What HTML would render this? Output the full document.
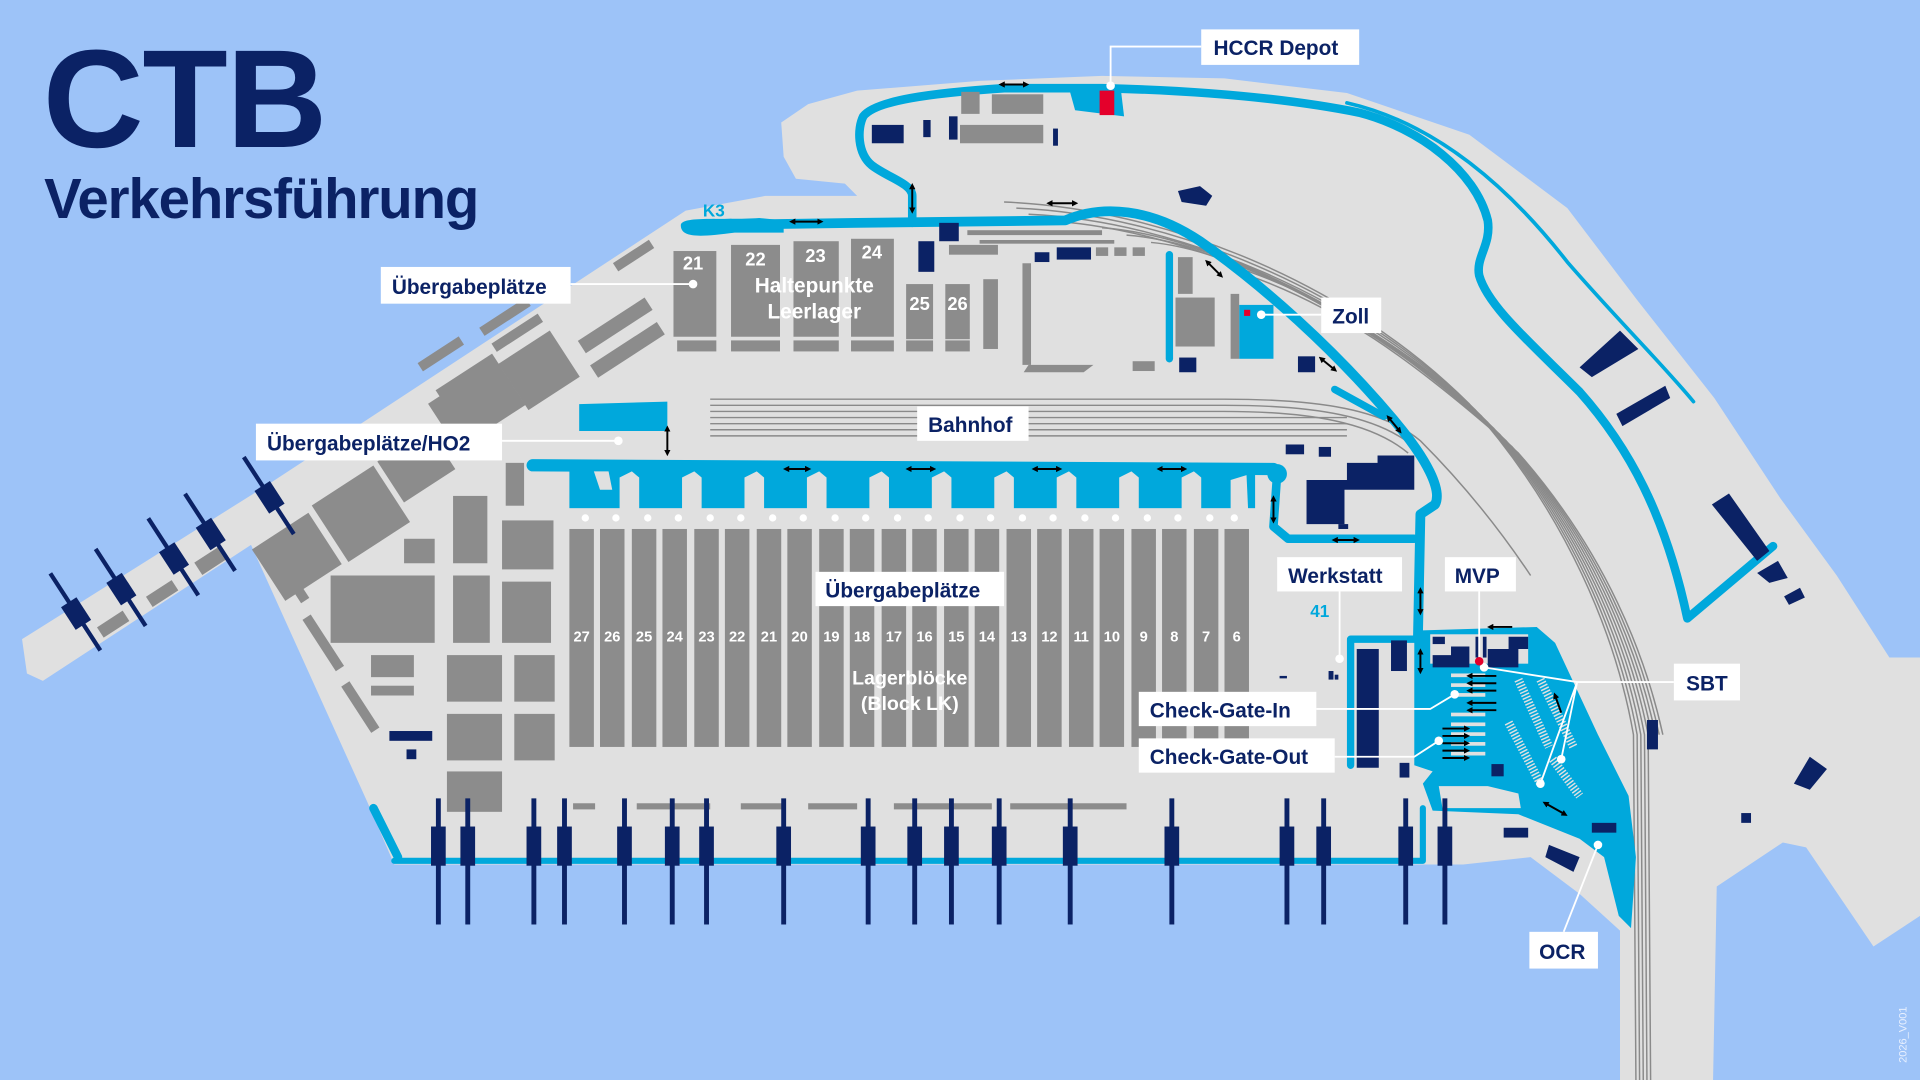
<!DOCTYPE html>
<html><head><meta charset="utf-8">
<style>
html,body{margin:0;padding:0;background:#9dc3f8;}
svg{display:block}
.lb{font-family:"Liberation Sans",sans-serif;font-weight:bold;fill:#0b2265;font-size:17px}
.wt{font-family:"Liberation Sans",sans-serif;font-weight:bold;fill:#fff}
</style></head>
<body>
<svg width="1920" height="1080" viewBox="0 0 1568 882" xmlns="http://www.w3.org/2000/svg">
<defs>
<marker id="ae" viewBox="0 0 10 10" refX="5" refY="5" markerWidth="3.2" markerHeight="3.2" orient="auto"><path d="M0,0 L10,5 L0,10 Z" fill="#000"/></marker>
<marker id="as" viewBox="0 0 10 10" refX="5" refY="5" markerWidth="3.2" markerHeight="3.2" orient="auto"><path d="M10,0 L0,5 L10,10 Z" fill="#000"/></marker>
</defs>
<rect width="1568" height="882" fill="#9dc3f8"/>
<path fill="#e0e0e0" d="M18,522 L220,395 L560,172 L625,160 L700,160 L690,150 L650,146 L640,128 L638,100 L660,85 L700,74 L800,66 L900,62 L1000,64 L1100,76 L1200,110 L1280,170 L1337,245 L1400,325 L1454,407 L1500,470 L1543,537 L1568,537 L1568,748 L1530,773 L1475,692 L1456,688 L1402,724 L1399,882 L1323,882 L1323,760 L1290,730 L1250,700 L1195,706 L322,706 L300,655 L205,445 L35,556 L22,550 Z"/>
<text x="35" y="120" font-family="Liberation Sans,sans-serif" font-weight="bold" font-size="114" fill="#0b2265" letter-spacing="-1">CTB</text>
<text x="36" y="178" font-family="Liberation Sans,sans-serif" font-weight="bold" font-size="46" fill="#0b2265" letter-spacing="-0.9">Verkehrsführung</text>

<g fill="none" stroke="#8a8a8a" stroke-width="1.2">
<path d="M820,165 C950,170 1100,230 1200,330 C1280,420 1320,520 1334,600 L1336,882"/>
<path d="M830,170 C955,175 1105,236 1205,335 C1284,424 1323,522 1337,600 L1339,882"/>
<path d="M840,175 C960,180 1110,242 1210,340 C1288,428 1326,524 1340,600 L1342,882"/>
<path d="M850,180 C965,185 1115,248 1215,345 C1292,432 1329,526 1343,600 L1345,882"/>
<path d="M900,186 C985,192 1120,254 1220,350 C1296,436 1332,528 1346,600 L1348,882"/>
<path d="M920,192 C1000,198 1125,260 1225,355 C1300,440 1335,530 1349,600"/>
<path d="M940,198 C1010,204 1130,266 1230,360 C1304,444 1338,532 1352,600"/>
<path d="M1000,215 C1080,240 1140,280 1235,365 C1308,448 1341,534 1355,600"/>
<path d="M1020,225 C1090,250 1150,290 1240,370 C1312,452 1344,536 1358,600"/>
<path d="M580,326 L1000,326 C1080,326 1130,335 1160,360 C1200,400 1230,440 1250,470"/>
<path d="M580,331 L1000,331 C1075,331 1125,340 1155,365"/>
<path d="M580,336 L1000,336 C1070,336 1120,345 1150,370"/>
<path d="M580,341 L1100,341"/>
<path d="M580,346 L1100,346"/>
<path d="M580,351 L1100,351"/>
<path d="M580,356 L1100,356"/>
</g>
<rect x="790" y="188" width="110" height="4" fill="#8a8a8a"/>
<rect x="800" y="196" width="110" height="3" fill="#8a8a8a"/>

<g fill="none" stroke="#00a8dc" stroke-linecap="round" stroke-linejoin="round">
<path stroke-width="7" d="M745,182 L745,160 C745,150 725,145 712,135 C700,125 700,105 705,95 C715,82 760,76 820,72 L900,72 C980,74 1050,80 1110,92 C1160,105 1205,140 1215,180 C1218,200 1205,210 1208,225 C1215,250 1250,280 1290,320 C1330,365 1360,420 1378,505 L1448,446"/>
<path stroke-width="3" d="M1100,84 C1170,100 1230,150 1280,214 C1320,260 1360,300 1383,328"/>
<path stroke-width="8" d="M565,184 L700,182 L870,180 C900,167 940,170 980,197 C1030,232 1090,285 1140,345 C1165,375 1178,400 1172,412 L1160,420 L1158,520"/>
<path stroke-width="6" d="M955,208 L955,293"/>
<path stroke-width="6" d="M1090,318 L1130,340"/>
<path stroke-width="10" d="M435,380 L1040,383"/>
<path stroke-width="7" d="M1043,387 L1040,430 L1052,440 L1155,440"/>
<path stroke-width="6" d="M1103,625 L1103,522 L1158,522"/>
<path stroke-width="5" d="M322,703 L1162,703 L1162,660"/>
<path stroke-width="7" d="M305,660 L325,700"/>
</g>
<path fill="#00a8dc" d="M556,184 C556,176 590,180 620,178 L640,180 L640,190 L600,190 C570,194 556,194 556,184Z"/>
<path fill="#00a8dc" d="M473,330 L545,328 L545,352 L473,352 Z"/>
<circle cx="1043" cy="387" r="8" fill="#00a8dc"/>
<rect x="1012" y="249" width="28" height="44" fill="#00a8dc"/>
<rect x="1016" y="253" width="5" height="5" fill="#e4002b"/>
<path fill="#00a8dc" d="M873,72 L915,70 L918,95 L878,90 Z"/>
<rect x="898" y="74" width="12" height="20" fill="#e4002b"/>
<rect x="465" y="383" width="560" height="32" fill="#00a8dc"/>
<g fill="#e0e0e0">
<path d="M485,385 L497,385 L500,400 L490,400Z"/>
<path d="M506,390 L516,385 L522,390 L522,432 L506,432Z"/>
<path d="M557,390 L567,385 L573,390 L573,432 L557,432Z"/>
<path d="M608,390 L618,385 L624,390 L624,432 L608,432Z"/>
<path d="M659,390 L669,385 L675,390 L675,432 L659,432Z"/>
<path d="M710,390 L720,385 L726,390 L726,432 L710,432Z"/>
<path d="M761,390 L771,385 L777,390 L777,432 L761,432Z"/>
<path d="M812,390 L822,385 L828,390 L828,432 L812,432Z"/>
<path d="M863,390 L873,385 L879,390 L879,432 L863,432Z"/>
<path d="M914,390 L924,385 L930,390 L930,432 L914,432Z"/>
<path d="M965,390 L975,385 L981,390 L981,432 L965,432Z"/>
<path d="M1005,392 L1018,388 L1020,432 L1005,432Z"/>
</g>
<g fill="#8c8c8c">
<rect x="465" y="432" width="20" height="178"/><rect x="490" y="432" width="20" height="178"/><rect x="516" y="432" width="20" height="178"/><rect x="541" y="432" width="20" height="178"/><rect x="567" y="432" width="20" height="178"/><rect x="592" y="432" width="20" height="178"/><rect x="618" y="432" width="20" height="178"/><rect x="643" y="432" width="20" height="178"/><rect x="669" y="432" width="20" height="178"/><rect x="694" y="432" width="20" height="178"/><rect x="720" y="432" width="20" height="178"/><rect x="745" y="432" width="20" height="178"/><rect x="771" y="432" width="20" height="178"/><rect x="796" y="432" width="20" height="178"/><rect x="822" y="432" width="20" height="178"/><rect x="847" y="432" width="20" height="178"/><rect x="873" y="432" width="20" height="178"/><rect x="898" y="432" width="20" height="178"/><rect x="924" y="432" width="20" height="178"/><rect x="949" y="432" width="20" height="178"/><rect x="975" y="432" width="20" height="178"/><rect x="1000" y="432" width="20" height="178"/>
</g>
<g fill="#fff"><circle cx="478" cy="423" r="3"/><circle cx="503" cy="423" r="3"/><circle cx="529" cy="423" r="3"/><circle cx="554" cy="423" r="3"/><circle cx="580" cy="423" r="3"/><circle cx="605" cy="423" r="3"/><circle cx="631" cy="423" r="3"/><circle cx="656" cy="423" r="3"/><circle cx="682" cy="423" r="3"/><circle cx="707" cy="423" r="3"/><circle cx="733" cy="423" r="3"/><circle cx="758" cy="423" r="3"/><circle cx="784" cy="423" r="3"/><circle cx="809" cy="423" r="3"/><circle cx="835" cy="423" r="3"/><circle cx="860" cy="423" r="3"/><circle cx="886" cy="423" r="3"/><circle cx="911" cy="423" r="3"/><circle cx="937" cy="423" r="3"/><circle cx="962" cy="423" r="3"/><circle cx="988" cy="423" r="3"/><circle cx="1008" cy="423" r="3"/></g>
<g class="wt" font-size="12" text-anchor="middle">
<text x="475" y="524">27</text><text x="500" y="524">26</text><text x="526" y="524">25</text><text x="551" y="524">24</text><text x="577" y="524">23</text><text x="602" y="524">22</text><text x="628" y="524">21</text><text x="653" y="524">20</text><text x="679" y="524">19</text><text x="704" y="524">18</text><text x="730" y="524">17</text><text x="755" y="524">16</text><text x="781" y="524">15</text><text x="806" y="524">14</text><text x="832" y="524">13</text><text x="857" y="524">12</text><text x="883" y="524">11</text><text x="908" y="524">10</text><text x="934" y="524">9</text><text x="959" y="524">8</text><text x="985" y="524">7</text><text x="1010" y="524">6</text>
</g>
<g fill="#8c8c8c">
<rect x="468" y="656" width="18" height="5"/><rect x="520" y="656" width="60" height="5"/><rect x="605" y="656" width="35" height="5"/><rect x="660" y="656" width="40" height="5"/><rect x="730" y="656" width="80" height="5"/><rect x="825" y="656" width="95" height="5"/>
<rect x="550" y="205" width="35" height="70"/><rect x="553" y="278" width="32" height="9"/>
<rect x="597" y="200" width="40" height="75"/><rect x="597" y="278" width="40" height="9"/>
<rect x="648" y="197" width="37" height="78"/><rect x="648" y="278" width="37" height="9"/>
<rect x="695" y="195" width="35" height="80"/><rect x="695" y="278" width="35" height="9"/>
<rect x="740" y="232" width="22" height="45"/><rect x="740" y="278" width="22" height="9"/>
<rect x="772" y="232" width="20" height="45"/><rect x="772" y="278" width="20" height="9"/>
<rect x="803" y="228" width="12" height="57"/><rect x="835" y="215" width="7" height="83"/>
<path d="M840,298 L893,298 L885,304 L836,304Z"/>
<rect x="775" y="200" width="40" height="8"/><rect x="895" y="202" width="10" height="7"/><rect x="910" y="202" width="10" height="7"/><rect x="925" y="202" width="10" height="7"/>
<rect x="925" y="295" width="18" height="8"/><rect x="962" y="210" width="12" height="30"/><rect x="960" y="243" width="32" height="40"/><rect x="1005" y="240" width="7" height="53"/>
<rect x="785" y="75" width="15" height="18"/><rect x="810" y="77" width="42" height="16"/><rect x="784" y="102" width="68" height="15"/>
<rect x="215" y="430" width="55" height="50" transform="rotate(-33 242 455)"/>
<rect x="265" y="392" width="60" height="55" transform="rotate(-33 295 420)"/>
<rect x="315" y="360" width="50" height="40" transform="rotate(-33 340 380)"/>
<rect x="365" y="300" width="55" height="50" transform="rotate(-33 392 325)"/>
<rect x="415" y="280" width="50" height="45" transform="rotate(-33 440 302)"/>
<rect x="355" y="318" width="35" height="30" transform="rotate(-33 372 333)"/>
<rect x="470" y="260" width="65" height="12" transform="rotate(-33 502 266)"/>
<rect x="480" y="280" width="65" height="12" transform="rotate(-33 512 286)"/>
<rect x="390" y="255" width="45" height="8" transform="rotate(-33 412 259)"/>
<rect x="400" y="268" width="45" height="8" transform="rotate(-33 422 272)"/>
<rect x="340" y="285" width="40" height="8" transform="rotate(-33 360 289)"/>
<rect x="500" y="205" width="35" height="8" transform="rotate(-33 517 209)"/>
<rect x="80" y="505" width="25" height="10" transform="rotate(-33 92 510)"/>
<rect x="120" y="480" width="25" height="10" transform="rotate(-33 132 485)"/>
<rect x="160" y="452" width="25" height="12" transform="rotate(-33 172 458)"/>
<rect x="230" y="440" width="8" height="55" transform="rotate(-33 234 467)"/>
<rect x="260" y="500" width="8" height="50" transform="rotate(-33 264 525)"/>
<rect x="290" y="555" width="8" height="45" transform="rotate(-33 294 577)"/>
<rect x="370" y="405" width="28" height="55"/><rect x="413" y="378" width="15" height="35"/>
<rect x="410" y="425" width="42" height="40"/><rect x="370" y="470" width="30" height="55"/>
<rect x="410" y="475" width="40" height="50"/><rect x="270" y="470" width="85" height="55"/>
<rect x="330" y="440" width="25" height="20"/><rect x="303" y="535" width="35" height="18"/>
<rect x="303" y="560" width="35" height="8"/><rect x="365" y="535" width="45" height="38"/>
<rect x="420" y="535" width="33" height="38"/><rect x="365" y="583" width="45" height="38"/>
<rect x="420" y="583" width="33" height="38"/><rect x="365" y="630" width="45" height="33"/>
</g>
<path fill="#00a8dc" d="M1155,515 L1255,512 L1270,525 L1305,600 L1330,650 L1336,700 L1332,758 L1322,748 L1310,700 L1290,685 L1240,665 L1170,662 L1162,640 L1170,630 L1155,625 Z"/>
<rect x="1168" y="518" width="80" height="24" fill="#e0e0e0"/>
<path fill="#e0e0e0" d="M1175,642 L1215,642 L1240,648 L1242,660 L1178,660 Z"/>
<g fill="#e0e0e0">
<rect x="1185" y="550" width="28" height="3"/><rect x="1185" y="558" width="28" height="3"/><rect x="1185" y="566" width="28" height="3"/><rect x="1185" y="582" width="28" height="3"/><rect x="1185" y="590" width="28" height="3"/><rect x="1185" y="598" width="28" height="3"/><rect x="1185" y="606" width="28" height="3"/><rect x="1185" y="614" width="28" height="3"/>
</g>
<g fill="none" stroke="#e0e0e0" stroke-width="7" stroke-dasharray="1.2 1.4">
<path d="M1240,555 L1265,610"/><path d="M1258,555 L1285,610"/><path d="M1232,590 L1258,640"/><path d="M1268,620 L1290,650"/>
</g>
<!-- arrows -->
<g stroke="#000" stroke-width="1.6">
<g marker-start="url(#as)">
<line x1="1200" y1="552" x2="1222" y2="552"/><line x1="1200" y1="558" x2="1222" y2="558"/><line x1="1200" y1="564" x2="1222" y2="564"/><line x1="1200" y1="574" x2="1222" y2="574"/><line x1="1200" y1="580" x2="1222" y2="580"/><line x1="1217" y1="512" x2="1235" y2="512"/>
</g>
<g marker-end="url(#ae)">
<line x1="1178" y1="595" x2="1198" y2="595"/><line x1="1178" y1="601" x2="1198" y2="601"/><line x1="1178" y1="607" x2="1198" y2="607"/><line x1="1178" y1="613" x2="1198" y2="613"/><line x1="1178" y1="619" x2="1198" y2="619"/><line x1="1275" y1="582" x2="1270" y2="568"/>
</g>
<g marker-start="url(#as)" marker-end="url(#ae)">
<line x1="818" y1="69" x2="838" y2="69"/><line x1="647" y1="181" x2="670" y2="181"/><line x1="857" y1="166" x2="878" y2="166"/><line x1="642" y1="383" x2="660" y2="383"/><line x1="742" y1="383" x2="762" y2="383"/><line x1="845" y1="383" x2="865" y2="383"/><line x1="947" y1="383" x2="967" y2="383"/><line x1="1090" y1="441" x2="1108" y2="441"/><line x1="1160" y1="482" x2="1160" y2="500"/><line x1="1160" y1="532" x2="1160" y2="548"/><line x1="1040" y1="407" x2="1040" y2="425"/><line x1="745" y1="152" x2="745" y2="172"/><line x1="545" y1="350" x2="545" y2="370"/><line x1="986" y1="214" x2="997" y2="225"/><line x1="1079" y1="293" x2="1090" y2="302"/><line x1="1134" y1="341" x2="1143" y2="352"/><line x1="1262" y1="656" x2="1278" y2="665"/>
</g>
</g>
<g fill="#0b2265">
<rect x="712" y="102" width="26" height="15"/><rect x="754" y="98" width="6" height="14"/><rect x="775" y="95" width="7" height="19"/><rect x="860" y="105" width="4" height="14"/>
<rect x="767" y="182" width="16" height="15"/><rect x="750" y="197" width="13" height="25"/><rect x="845" y="206" width="12" height="8"/><rect x="863" y="202" width="28" height="10"/>
<rect x="963" y="292" width="14" height="12"/><rect x="1060" y="291" width="14" height="13"/>
<path d="M962,156 L980,152 L990,160 L985,168 L965,165Z"/>
<rect x="1050" y="363" width="15" height="8"/><rect x="1077" y="365" width="10" height="8"/>
<path d="M1067,392 L1100,392 L1100,378 L1125,378 L1125,372 L1155,372 L1155,400 L1098,400 L1098,428 L1067,428Z"/>
<rect x="1093" y="428" width="8" height="4"/>
<rect x="1108" y="530" width="18" height="97"/><rect x="1136" y="523" width="13" height="25"/><rect x="1143" y="623" width="8" height="12"/>
<rect x="1045" y="552" width="6" height="2"/><rect x="1085" y="548" width="4" height="7"/><rect x="1090" y="551" width="3" height="4"/>
<path d="M1170,535 L1185,535 L1185,528 L1200,528 L1200,545 L1170,545Z"/><rect x="1170" y="520" width="10" height="6"/>
<rect x="1205" y="520" width="3" height="17"/><rect x="1211" y="520" width="3" height="17"/>
<path d="M1215,530 L1232,530 L1232,520 L1248,520 L1248,530 L1240,530 L1240,545 L1215,545Z"/>
<rect x="1218" y="624" width="10" height="10"/>
<path d="M1290,300 L1323,270 L1338,285 L1300,308Z"/><path d="M1320,338 L1360,315 L1364,325 L1325,348Z"/>
<path d="M1398,412 L1412,403 L1445,450 L1435,458Z"/><path d="M1435,468 L1452,458 L1460,472 L1445,476Z"/><path d="M1457,487 L1470,480 L1474,488 L1461,494Z"/>
<rect x="1345" y="588" width="9" height="24"/><path d="M1465,640 L1478,618 L1492,628 L1478,645Z"/><rect x="1422" y="664" width="8" height="8"/>
<rect x="1228" y="676" width="20" height="8"/><path d="M1265,690 L1290,700 L1285,712 L1262,700Z"/><rect x="1300" y="672" width="20" height="8"/>
<rect x="332" y="612" width="8" height="8"/><rect x="318" y="597" width="35" height="8"/>
</g>
<g fill="#0b2265">
<g id="c"><rect x="356" y="652" width="4" height="103"/><rect x="352" y="675" width="12" height="32"/></g>
<use href="#c" x="24"/><use href="#c" x="78"/><use href="#c" x="103"/><use href="#c" x="152"/><use href="#c" x="191"/><use href="#c" x="219"/><use href="#c" x="282"/><use href="#c" x="351"/><use href="#c" x="389"/><use href="#c" x="419"/><use href="#c" x="458"/><use href="#c" x="516"/><use href="#c" x="599"/><use href="#c" x="693"/><use href="#c" x="723"/><use href="#c" x="790"/><use href="#c" x="822"/>
<g id="p"><rect x="60" y="462" width="3.5" height="75" transform="rotate(-33 62 500)"/><rect x="54" y="490" width="15" height="22" transform="rotate(-33 62 500)"/></g>
<use href="#p" x="37" y="-20"/><use href="#p" x="80" y="-45"/><use href="#p" x="110" y="-65"/><use href="#p" x="158" y="-95"/>
</g>
<g stroke="#fff" stroke-width="1.5" fill="none">
<path d="M981,38 L907,38 L907,70"/><path d="M466,232 L566,232"/><path d="M410,360 L505,360"/><path d="M1079,257 L1030,257"/>
<path d="M1094,483 L1094,538"/><path d="M1208,483 L1208,540"/>
<path d="M1367,557 L1288,557 L1212,545 M1288,557 L1258,640 M1288,557 L1275,620"/>
<path d="M1075,579 L1168,579 L1188,567"/><path d="M1090,618 L1155,618 L1175,605"/><path d="M1277,761 L1305,690"/>
</g>
<g fill="#fff"><circle cx="907" cy="70" r="3.5"/><circle cx="566" cy="232" r="3.5"/><circle cx="505" cy="360" r="3.5"/><circle cx="1030" cy="257" r="3.5"/><circle cx="1094" cy="538" r="3.5"/><circle cx="1212" cy="545" r="3.5"/><circle cx="1258" cy="640" r="3.5"/><circle cx="1275" cy="620" r="3.5"/><circle cx="1188" cy="567" r="3.5"/><circle cx="1175" cy="605" r="3.5"/><circle cx="1305" cy="690" r="3.5"/></g>
<circle cx="1208" cy="540" r="3.5" fill="#e4002b"/>
<g fill="#fff">
<rect x="981" y="24" width="129" height="29"/><rect x="311" y="218" width="155" height="30"/><rect x="209" y="346" width="201" height="30"/><rect x="749" y="332" width="91" height="28"/><rect x="1079" y="243" width="49" height="29"/><rect x="666" y="467" width="154" height="28"/><rect x="1043" y="455" width="102" height="28"/><rect x="1180" y="455" width="58" height="28"/><rect x="1367" y="542" width="54" height="30"/><rect x="930" y="565" width="145" height="28"/><rect x="930" y="603" width="160" height="28"/><rect x="1249" y="761" width="56" height="30"/>
</g>
<g class="lb">
<text x="991" y="45">HCCR Depot</text><text x="320" y="240">Übergabeplätze</text><text x="218" y="368">Übergabeplätze/HO2</text><text x="758" y="353">Bahnhof</text><text x="1088" y="264">Zoll</text><text x="674" y="488">Übergabeplätze</text><text x="1052" y="476">Werkstatt</text><text x="1188" y="476">MVP</text><text x="1377" y="564">SBT</text><text x="939" y="586">Check-Gate-In</text><text x="939" y="624">Check-Gate-Out</text><text x="1257" y="783">OCR</text>
</g>
<g class="wt" font-size="15" text-anchor="middle">
<text x="566" y="220">21</text><text x="617" y="217">22</text><text x="666" y="214">23</text><text x="712" y="211">24</text><text x="751" y="253">25</text><text x="782" y="253">26</text>
<text x="665" y="239" font-size="17">Haltepunkte</text><text x="665" y="260" font-size="17">Leerlager</text>
<text x="743" y="559" font-size="16">Lagerblöcke</text><text x="743" y="580" font-size="16">(Block LK)</text>
</g>
<text x="574" y="177" font-family="Liberation Sans,sans-serif" font-weight="bold" font-size="14" fill="#00a8dc">K3</text>
<text x="1070" y="504" font-family="Liberation Sans,sans-serif" font-weight="bold" font-size="14" fill="#00a8dc">41</text>
<text transform="translate(1557,868) rotate(-90)" font-family="Liberation Sans,sans-serif" font-size="9" fill="#e8f0ff">2026_V001</text>
</svg>
</body></html>
